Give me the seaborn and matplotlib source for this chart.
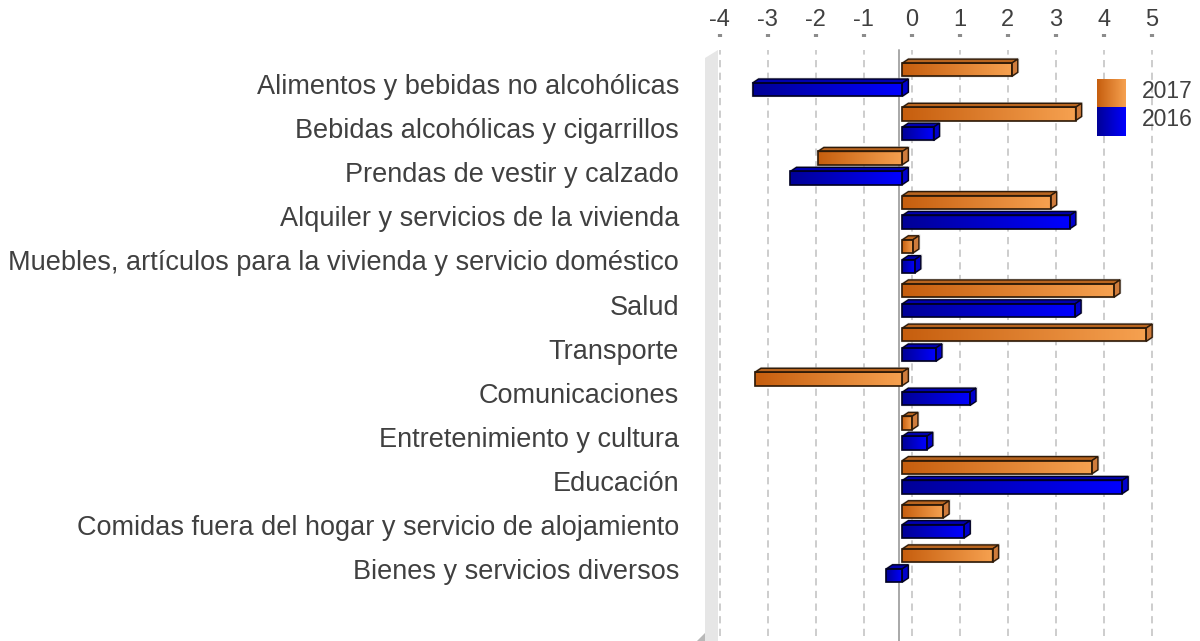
import numpy as np
import pandas as pd
import matplotlib
matplotlib.use("Agg")
import matplotlib.pyplot as plt
import matplotlib.transforms as mtransforms
from matplotlib.patches import Polygon
from matplotlib.colors import LinearSegmentedColormap, to_hex
import seaborn as sns

# ---- data -------------------------------------------------------------
categories = [
    "Alimentos y bebidas no alcohólicas",
    "Bebidas alcohólicas y cigarrillos",
    "Prendas de vestir y calzado",
    "Alquiler y servicios de la vivienda",
    "Muebles, artículos para la vivienda y servicio doméstico",
    "Salud",
    "Transporte",
    "Comunicaciones",
    "Entretenimiento y cultura",
    "Educación",
    "Comidas fuera del hogar y servicio de alojamiento",
    "Bienes y servicios diversos",
]
val_2017 = [2.28, 3.61, -1.76, 3.09, 0.22, 4.41, 5.08, -3.07, 0.20, 3.95, 0.85, 1.88]
val_2016 = [-3.12, 0.65, -2.33, 3.49, 0.26, 3.60, 0.70, 1.41, 0.51, 4.58, 1.29, -0.33]
years = ["2017", "2016"]
tick_values = list(range(-4, 6))

df = pd.DataFrame({
    "categoria": categories * 2,
    "anio": [years[0]] * len(categories) + [years[1]] * len(categories),
    "valor": val_2017 + val_2016,
})

# ---- style ------------------------------------------------------------
TEXT = "#404040"
base_colors = {"2017": "#e07a2a", "2016": "#0000d0"}
gradients = {
    "2017": LinearSegmentedColormap.from_list("naranja", ["#c65e0e", "#f6a150"]),
    "2016": LinearSegmentedColormap.from_list("azul", ["#000096", "#0000ff"]),
}
edge_colors = {"2017": "#2e1a08", "2016": "#000022"}
top_colors = {"2017": "#b9651f", "2016": "#0000b0"}
side_colors = {"2017": "#cf7c3c", "2016": "#0000cc"}

sns.set_theme(style="white")
plt.rcParams["font.family"] = ["Liberation Sans", "DejaVu Sans"]

W, H = 1200, 641
fig = plt.figure(figsize=(W / 100, H / 100), dpi=100)
ax_left, ax_right, ax_top = 700, 1180, 37
ax = fig.add_axes([ax_left / W, 0, (ax_right - ax_left) / W, (H - ax_top) / H])

sns.barplot(
    data=df, y="categoria", x="valor", hue="anio", hue_order=years,
    order=categories, orient="h", palette=base_colors, width=0.9, gap=0.333,
    legend=False, ax=ax, saturation=1,
)

# axis geometry (front plane of the pseudo-3D chart)
xlim = (-4.215, 5.785)
ylim = (12.71, -0.967)
px_per_x = (ax_right - ax_left) / (xlim[1] - xlim[0])
px_per_y = (H - ax_top) / (ylim[0] - ylim[1])
dx = 6 / px_per_x       # depth offset, horizontal
dy = 4 / px_per_y       # depth offset, vertical
back_shift = 9.4 / px_per_x

# ---- 3D bars ----------------------------------------------------------
color_to_year = {to_hex(base_colors[y]): y for y in years}
grad = np.linspace(0, 1, 256)[None, :]
for p in list(ax.patches):
    yr = color_to_year.get(to_hex(p.get_facecolor()))
    if yr is None:
        continue
    x0, w = p.get_x(), p.get_width()
    xl, xr = min(x0, x0 + w), max(x0, x0 + w)
    y0, h = p.get_y(), p.get_height()
    yt, yb = min(y0, y0 + h), max(y0, y0 + h)
    # gradient front face
    ax.imshow(grad, extent=(xl, xr, yb, yt), cmap=gradients[yr],
              aspect="auto", interpolation="bilinear", zorder=3)
    p.set_facecolor("none")
    p.set_edgecolor(edge_colors[yr])
    p.set_linewidth(1.2)
    p.set_zorder(4)
    top = Polygon([(xl, yt), (xr, yt), (xr + dx, yt - dy), (xl + dx, yt - dy)],
                  closed=True, facecolor=top_colors[yr], edgecolor=edge_colors[yr],
                  linewidth=1.0, zorder=3.5)
    side = Polygon([(xr, yt), (xr, yb), (xr + dx, yb - dy), (xr + dx, yt - dy)],
                   closed=True, facecolor=side_colors[yr], edgecolor=edge_colors[yr],
                   linewidth=1.0, zorder=3.5)
    # soft shadow behind the block
    shadow = Polygon([(xl - 0.02, yt - 0.02), (xl + dx, yt - dy - 0.03),
                      (xr + dx + 0.03, yt - dy - 0.03), (xr + dx + 0.03, yb - dy),
                      (xr + 0.02, yb + 0.02), (xl - 0.02, yb + 0.02)],
                     closed=True, facecolor="#bdbdbd", edgecolor="none",
                     alpha=0.6, zorder=2.5)
    ax.add_patch(shadow)
    ax.add_patch(top)
    ax.add_patch(side)

ax.set_xlim(*xlim)
ax.set_ylim(*ylim)

# ---- grid, wall and zero line ----------------------------------------
grid_top = (H - 50) / (H - ax_top)
grid_bottom = 5 / (H - ax_top)
for t in tick_values:
    ax.axvline(t + back_shift, ymin=grid_bottom, ymax=grid_top, color="#c9c9c9",
               lw=1.3, ls=(0, (4, 3)), zorder=1)
ax.axvline(-3 / px_per_x, ymin=0, ymax=grid_top, color="#a8a8a8", lw=1.4, zorder=2)


def to_axes(px, py):
    return ((px - ax_left) / (ax_right - ax_left), (H - py) / (H - ax_top))


wall = Polygon([to_axes(705, 641), to_axes(705, 58), to_axes(718, 50), to_axes(718, 641)],
               closed=True, transform=ax.transAxes, facecolor="#e6e6e6",
               edgecolor="none", zorder=0.5, clip_on=False)
ax.add_patch(wall)
corner = Polygon([to_axes(697, 641), to_axes(705, 633), to_axes(705, 641)],
                 closed=True, transform=ax.transAxes, facecolor="#b8b8b8",
                 edgecolor="none", zorder=0.6, clip_on=False)
ax.add_patch(corner)

# ---- ticks and labels -------------------------------------------------
ax.xaxis.tick_top()
ax.set_xticks([t + back_shift for t in tick_values])
ax.set_xticklabels([str(t) for t in tick_values])
ax.tick_params(axis="x", top=True, bottom=False, length=2.5, width=3,
               color="#8c8c8c", pad=2, labelsize=17, labelcolor=TEXT)
ax.tick_params(axis="y", left=False, length=0, pad=15, labelsize=19.5, labelcolor=TEXT)
ax.set_xlabel("")
ax.set_ylabel("")
for s in ax.spines.values():
    s.set_visible(False)
ax.grid(False)

shift = mtransforms.ScaledTranslation(0, -4 / 100, fig.dpi_scale_trans)
for lab in ax.get_yticklabels():
    lab.set_transform(lab.get_transform() + shift)

# ---- legend -----------------------------------------------------------
lx0, lx1, ly0, ly1 = 1097, 1126, 79, 136
lg = fig.add_axes([lx0 / W, (H - ly1) / H, (lx1 - lx0) / W, (ly1 - ly0) / H])
lg.imshow(grad, extent=(0, 1, 0.5, 1), cmap=gradients["2017"], aspect="auto")
lg.imshow(grad, extent=(0, 1, 0, 0.5), cmap=gradients["2016"], aspect="auto")
lg.set_xlim(0, 1)
lg.set_ylim(0, 1)
lg.axis("off")
fig.text(1142 / W, (H - 92) / H, years[0], fontsize=16.5, color=TEXT, va="center", ha="left")
fig.text(1142 / W, (H - 120) / H, years[1], fontsize=16.5, color=TEXT, va="center", ha="left")

fig.savefig("out.png", dpi=100, facecolor="white")
